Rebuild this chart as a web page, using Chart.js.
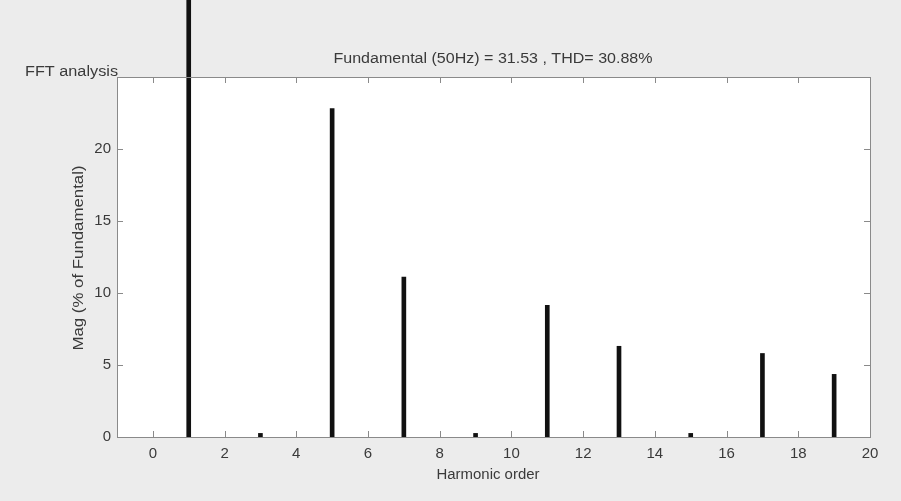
<!DOCTYPE html>
<html>
<head>
<meta charset="utf-8">
<script src="https://cdn.jsdelivr.net/npm/chart.js@4"></script>
<style>
  html, body { margin: 0; padding: 0; background: #ececec; }
  #wrap { width: 901px; height: 501px; }
</style>
</head>
<body>
<div id="wrap"><canvas id="fftChart" width="901" height="501"></canvas></div>
<script>
// harmonic orders and magnitudes (% of fundamental)
const harmonics = [1, 3, 5, 7, 9, 11, 13, 15, 17, 19];
const magnitudes = [100, 0.25, 22.8, 11.1, 0.25, 9.15, 6.3, 0.25, 5.8, 4.35];
const xTicks = [0, 2, 4, 6, 8, 10, 12, 14, 16, 18, 20];
const yTicks = [0, 5, 10, 15, 20, 25];

const titleText = "Fundamental (50Hz) = 31.53 , THD= 30.88%";
const FAMILY = "'Liberation Sans', Arial, sans-serif";
const TEXT = "#3a3a3a";
const AXIS = "#8a8a8a";

// text in the screenshot is a bit wider than the font, so stretch it to a width
function wideText(ctx, text, x, y, width, angle) {
  const w = ctx.measureText(text).width;
  ctx.save();
  ctx.translate(x, y);
  if (angle) ctx.rotate(angle);
  ctx.scale(width / w, 1);
  ctx.fillText(text, 0, 0);
  ctx.restore();
}

// white plot box + inward ticks on all four sides, matlab style
const boxPlugin = {
  id: "box",
  beforeDraw(chart) {
    const { ctx, chartArea: a } = chart;
    ctx.save();
    ctx.fillStyle = "#ececec";
    ctx.fillRect(0, 0, chart.width, chart.height);
    ctx.fillStyle = "#fff";
    ctx.fillRect(a.left, a.top, a.right - a.left, a.bottom - a.top);
    ctx.restore();
  },
  afterDraw(chart) {
    const { ctx, chartArea: a, scales } = chart;
    ctx.save();
    ctx.strokeStyle = AXIS;
    ctx.lineWidth = 1;
    ctx.strokeRect(a.left + 0.5, a.top + 0.5, a.right - a.left, a.bottom - a.top);
    ctx.beginPath();
    xTicks.forEach(v => {
      const px = Math.round(scales.x.getPixelForValue(v)) + 0.5;
      ctx.moveTo(px, a.bottom); ctx.lineTo(px, a.bottom - 6);
      ctx.moveTo(px, a.top); ctx.lineTo(px, a.top + 6);
    });
    yTicks.forEach(v => {
      const py = Math.round(scales.y.getPixelForValue(v)) + 0.5;
      ctx.moveTo(a.left, py); ctx.lineTo(a.left + 6, py);
      ctx.moveTo(a.right, py); ctx.lineTo(a.right - 6, py);
    });
    ctx.stroke();

    ctx.fillStyle = TEXT;
    ctx.textBaseline = "middle";
    ctx.font = "14px " + FAMILY;
    ctx.textAlign = "center";
    wideText(ctx, titleText, 493, 59, 319);
    wideText(ctx, "Harmonic order", 488, 475, 103);
    wideText(ctx, "Mag (% of Fundamental)", 79, 258, 185, -Math.PI / 2);
    ctx.textAlign = "left";
    wideText(ctx, "FFT analysis", 25, 72, 93);
    ctx.restore();
  }
};

new Chart(document.getElementById("fftChart"), {
  type: "bar",
  data: {
    datasets: [{
      data: harmonics.map((h, i) => ({ x: h, y: magnitudes[i] })),
      backgroundColor: "#111",
      borderWidth: 0,
      barThickness: 4,
      clip: false
    }]
  },
  options: {
    responsive: false,
    animation: false,
    layout: { padding: { top: 77, right: 31, left: 0, bottom: 0 } },
    plugins: { legend: { display: false }, tooltip: { enabled: false } },
    scales: {
      x: {
        type: "linear",
        min: -1, max: 20,
        offset: false,
        afterFit: s => { s.height = 64; },
        afterBuildTicks: s => { s.ticks = xTicks.map(v => ({ value: v })); },
        grid: { display: false, drawTicks: false },
        border: { display: false },
        ticks: { color: TEXT, font: { family: FAMILY, size: 15 }, padding: 8, maxRotation: 0 }
      },
      y: {
        min: 0, max: 25,
        afterFit: s => { s.width = 117; },
        afterBuildTicks: s => { s.ticks = yTicks.map(v => ({ value: v })); },
        grid: { display: false, drawTicks: false },
        border: { display: false },
        ticks: {
          color: TEXT,
          font: { family: FAMILY, size: 15 },
          padding: 6,
          callback: v => (v === 25 ? "" : v)
        }
      }
    }
  },
  plugins: [boxPlugin]
});
</script>
</body>
</html>
